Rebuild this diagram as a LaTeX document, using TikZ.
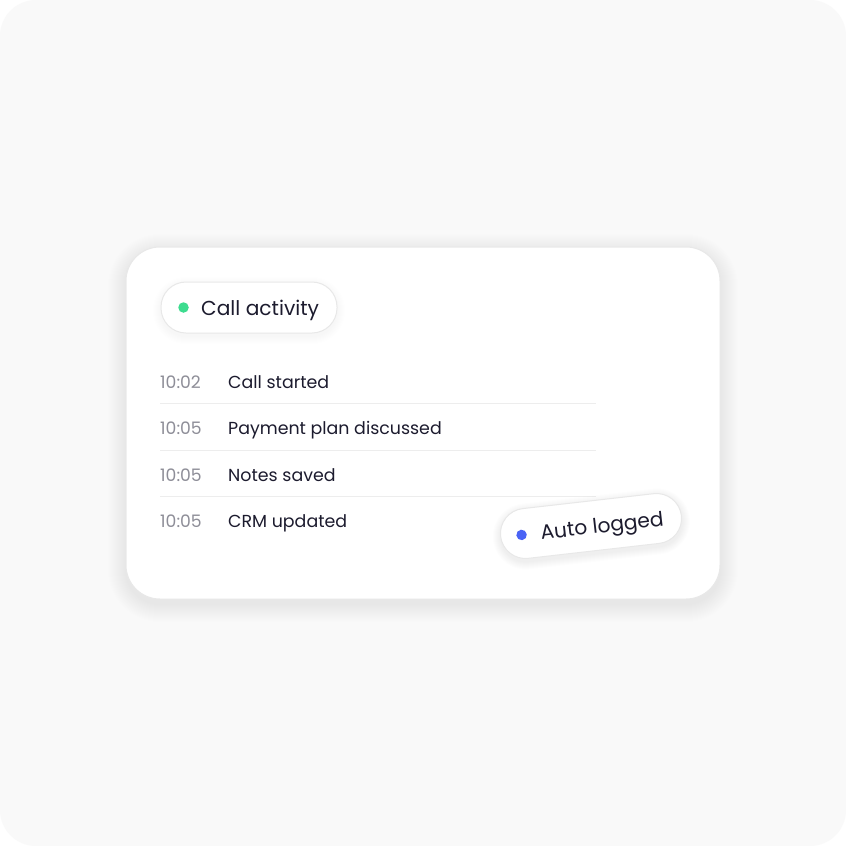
\documentclass[tikz,border=0pt]{standalone}
\usepackage{fontspec}
\setmainfont{Poppins}
\definecolor{bgpanel}{HTML}{F9F9F9}
\definecolor{cardline}{HTML}{E8E8E8}
\definecolor{ink}{HTML}{1C1B2E}
\definecolor{muted}{HTML}{8E8E98}
\definecolor{rulecol}{HTML}{EDEDED}
\definecolor{dotgreen}{HTML}{3DDC8F}
\definecolor{dotblue}{HTML}{4A63F5}
\tikzset{
  cardbox/.style={draw=cardline, line width=1pt, fill=white, rounded corners=34pt,
    minimum width=594pt, minimum height=352pt, inner sep=0pt},
  pillbox/.style={draw=cardline, line width=1pt, fill=white, rounded corners=25pt,
    minimum height=51pt, inner sep=0pt},
  dotmark/.style={circle, inner sep=0pt, minimum size=10.5pt},
  timetxt/.style={anchor=base west, text=muted, font=\fontsize{17.2}{17.2}\selectfont, inner sep=0pt},
  itemtxt/.style={anchor=base west, text=ink, font=\fontsize{17.4}{17.4}\selectfont, inner sep=0pt},
  pilltxt/.style={anchor=base west, text=ink, font=\fontsize{20.2}{20.2}\selectfont, inner sep=0pt},
  sepline/.style={draw=rulecol, line width=1pt}
}
\begin{document}
\begin{tikzpicture}[x=1pt,y=-1pt]
\useasboundingbox (0,0) rectangle (846,846);
\fill[white] (0,0) rectangle (846,846);
\fill[bgpanel, rounded corners=36pt] (0,0) rectangle (846,846);
% card shadow (soft)
\foreach \i in {1,...,18} {
  \fill[black, opacity=0.0035, rounded corners=34pt+\i pt]
    (126-\i,247-\i+5) rectangle (720+\i,599+\i+5);
}
\node[cardbox] (card) at (423,423) {};
% Call activity pill
\foreach \i in {1,...,8} {
  \fill[black, opacity=0.005, rounded corners=25pt+\i pt]
    (161-\i,282-\i+3) rectangle (337+\i,333+\i+3);
}
\node[pillbox, minimum width=176pt] (pill) at (249,307.5) {};
\node[dotmark, fill=dotgreen] (gdot) at (183.5,307.5) {};
\node[pilltxt] (ptitle) at (201,315.5) {Call activity};
% rows
\node[timetxt] (t1) at (160,388) {10:02};
\node[itemtxt] (e1) at (228,388) {Call started};
\node[timetxt] (t2) at (160,434) {10:05};
\node[itemtxt] (e2) at (228,434) {Payment plan discussed};
\node[timetxt] (t3) at (160,481) {10:05};
\node[itemtxt] (e3) at (228,481) {Notes saved};
\node[timetxt] (t4) at (160,527) {10:05};
\node[itemtxt] (e4) at (228,527) {CRM updated};
\draw[sepline] (160,403.5) -- (596,403.5);
\draw[sepline] (160,450) -- (596,450);
\draw[sepline] (160,496.5) -- (596,496.5);
% Auto logged pill
\begin{scope}[shift={(591,526)}, rotate=6.5]
  \foreach \i in {1,...,8} {
    \fill[black, opacity=0.006, rounded corners=25pt+\i pt]
      (-91-\i,-25-\i+3) rectangle (91+\i,25+\i+3);
  }
  \node[pillbox, minimum width=182pt, minimum height=50pt, transform shape] (auto) at (0,0) {};
  \node[dotmark, fill=dotblue, transform shape] (bdot) at (-70,1) {};
  \node[pilltxt, transform shape] (atxt) at (-51,8) {Auto logged};
\end{scope}
\end{tikzpicture}
\end{document}
